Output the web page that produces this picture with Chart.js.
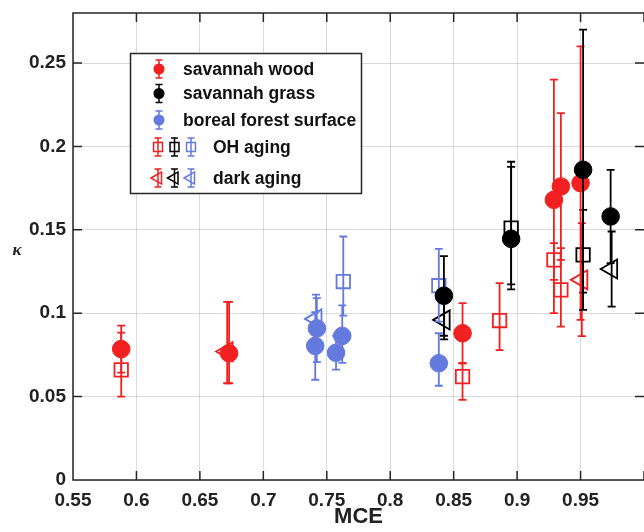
<!DOCTYPE html>
<html>
<head>
<meta charset="utf-8">
<script src="https://cdn.jsdelivr.net/npm/chart.js@4.4.0/dist/chart.umd.min.js"></script>
<style>
  html, body { margin: 0; padding: 0; background: #fff; overflow: hidden; }
  canvas { display: block; }
</style>
</head>
<body>
<canvas id="kappa" width="644" height="532"></canvas>
<script>
const RED = 'rgb(242,32,32)';
const BLACK = '#000';
const BLUE = 'rgb(100,122,222)';

// savannah wood (filled circles)
const woodMce   = [0.588, 0.673, 0.857, 0.929, 0.9345, 0.950];
const woodKappa = [0.0785, 0.076, 0.088, 0.168, 0.176, 0.178];
const woodLow   = [0.0644, 0.058, 0.070, 0.100, 0.132, 0.096];
const woodHigh  = [0.0926, 0.1068, 0.106, 0.240, 0.220, 0.260];

// savannah grass (filled circles)
const grassMce   = [0.8423, 0.8953, 0.952, 0.9737];
const grassKappa = [0.1105, 0.1446, 0.186, 0.158];
const grassLow   = [0.0865, 0.1143, 0.102, 0.130];
const grassHigh  = [0.1342, 0.1877, 0.270, 0.186];

// boreal forest surface (filled circles)
const borealMce   = [0.7422, 0.7409, 0.7622, 0.7573, 0.8383];
const borealKappa = [0.0909, 0.0804, 0.0864, 0.0763, 0.070];
const borealLow   = [0.0707, 0.0601, 0.0702, 0.0662, 0.0565];
const borealHigh  = [0.1091, 0.1007, 0.1047, 0.0864, 0.088];

// OH aging (open squares)
const ohWoodMce     = [0.588, 0.857, 0.8862, 0.929, 0.9345];
const ohWoodKappa   = [0.066, 0.062, 0.0956, 0.132, 0.114];
const ohWoodLow     = [0.050, 0.048, 0.0779, 0.120, 0.092];
const ohWoodHigh    = [0.0884, 0.070, 0.1181, 0.142, 0.139];
const ohGrassMce    = [0.8953, 0.952];
const ohGrassKappa  = [0.151, 0.135];
const ohGrassLow    = [0.1173, 0.1123];
const ohGrassHigh   = [0.1908, 0.162];
const ohBorealMce   = [0.763, 0.8383];
const ohBorealKappa = [0.119, 0.1165];
const ohBorealLow   = [0.0986, 0.095];
const ohBorealHigh  = [0.146, 0.1386];

// dark aging (open left triangles)
const darkWoodMce     = [0.6715, 0.951];
const darkWoodKappa   = [0.077, 0.120];
const darkWoodLow     = [0.058, 0.0863];
const darkWoodHigh    = [0.1068, 0.154];
const darkGrassMce    = [0.8425, 0.9745];
const darkGrassKappa  = [0.096, 0.1265];
const darkGrassLow    = [0.0843, 0.104];
const darkGrassHigh   = [0.108, 0.149];
const darkBorealMce   = [0.7415];
const darkBorealKappa = [0.0966];
const darkBorealLow   = [0.083];
const darkBorealHigh  = [0.1111];

const xTicks = { min: 0.55, max: 1.0, step: 0.05 };
const yTicks = { min: 0, max: 0.28, step: 0.05 };

const pts = (mce, k, lo, hi) => mce.map((x, i) => ({ x, y: k[i], yMin: lo[i], yMax: hi[i] }));

const filled = (label, data, color, order) => ({
  label, data, order, showLine: false,
  pointStyle: 'circle', pointRadius: 8.8,
  pointBackgroundColor: color, pointBorderColor: color, pointBorderWidth: 1,
  borderColor: color, backgroundColor: color
});
const open = (label, data, color, order, style) => ({
  label, data, order, showLine: false,
  pointStyle: style, pointRadius: style === 'rect' ? 9.5 : 11,
  pointRotation: style === 'triangle' ? -90 : 0,
  pointBackgroundColor: 'rgba(0,0,0,0)', pointBorderColor: color, pointBorderWidth: 1.8,
  borderColor: color, backgroundColor: 'rgba(0,0,0,0)'
});

// vertical error bars with caps, drawn just under each dataset's markers
const errorBars = {
  id: 'errorBars',
  beforeDatasetDraw(chart, args) {
    const ds = chart.data.datasets[args.index];
    const { ctx, scales: { x, y } } = chart;
    ctx.save();
    ctx.strokeStyle = ds.borderColor;
    ctx.lineWidth = 1.8;
    ds.data.forEach(p => {
      const px = x.getPixelForValue(p.x);
      const top = y.getPixelForValue(p.yMax);
      const bot = y.getPixelForValue(p.yMin);
      ctx.beginPath();
      ctx.moveTo(px, top); ctx.lineTo(px, bot);
      ctx.moveTo(px - 4, top); ctx.lineTo(px + 4, top);
      ctx.moveTo(px - 4, bot); ctx.lineTo(px + 4, bot);
      ctx.stroke();
    });
    ctx.restore();
  }
};

// box axes with inward ticks, plus the kappa label
const frame = {
  id: 'frame',
  afterDatasetsDraw(chart) {
    const { ctx, chartArea: a, scales: { x, y } } = chart;
    ctx.save();
    ctx.strokeStyle = '#262626';
    ctx.lineWidth = 1.5;
    ctx.beginPath();
    ctx.moveTo(a.right + 2, a.top); ctx.lineTo(a.left, a.top);
    ctx.lineTo(a.left, a.bottom); ctx.lineTo(a.right + 2, a.bottom);
    x.ticks.forEach(t => {
      const px = x.getPixelForValue(t.value);
      ctx.moveTo(px, a.bottom); ctx.lineTo(px, a.bottom - 9);
      ctx.moveTo(px, a.top); ctx.lineTo(px, a.top + 9);
    });
    y.ticks.forEach(t => {
      const py = y.getPixelForValue(t.value);
      ctx.moveTo(a.left, py); ctx.lineTo(a.left + 9, py);
      ctx.moveTo(a.right, py); ctx.lineTo(a.right - 9, py);
    });
    ctx.stroke();
    ctx.fillStyle = '#222';
    ctx.font = 'bold italic 17px "Liberation Serif"';
    ctx.textAlign = 'center';
    ctx.textBaseline = 'middle';
    ctx.fillText('κ', 17, (a.top + a.bottom) / 2 + 4);
    ctx.restore();
  }
};

// boxed key, with an error-bar glyph per entry
const keyBox = {
  id: 'keyBox',
  afterDraw(chart) {
    const ctx = chart.ctx;
    const sets = chart.data.datasets;
    ctx.save();
    ctx.fillStyle = '#fff';
    ctx.fillRect(130, 53, 232, 141);
    ctx.strokeStyle = '#262626';
    ctx.lineWidth = 1.5;
    ctx.strokeRect(130.5, 53.5, 231, 140);

    const glyph = (x, y, color, style, r, fill, rot) => {
      ctx.strokeStyle = color;
      ctx.lineWidth = 1.5;
      ctx.beginPath();
      ctx.moveTo(x, y - 9); ctx.lineTo(x, y + 9);
      ctx.moveTo(x - 3.5, y - 9); ctx.lineTo(x + 3.5, y - 9);
      ctx.moveTo(x - 3.5, y + 9); ctx.lineTo(x + 3.5, y + 9);
      ctx.stroke();
      ctx.fillStyle = fill ? color : 'rgba(0,0,0,0)';
      Chart.helpers.drawPoint(ctx, { pointStyle: style, radius: r, rotation: rot || 0, borderWidth: 1.3 }, x, y);
    };

    const rows = [69, 93.5, 120, 147, 178];
    [RED, BLACK, BLUE].forEach((c, i) => glyph(159, rows[i], c, 'circle', 4.8, true));
    [RED, BLACK, BLUE].forEach((c, i) => glyph(158 + i * 16.5, rows[3], c, 'rect', 6.3, false));
    [RED, BLACK, BLUE].forEach((c, i) => glyph(158 + i * 16.5, rows[4], c, 'triangle', 7, false, -90));

    ctx.fillStyle = '#111';
    ctx.font = 'bold 17.5px "Liberation Sans"';
    ctx.textAlign = 'left';
    ctx.textBaseline = 'middle';
    for (let i = 0; i < 3; i++) ctx.fillText(sets[i].label, 183, rows[i] + 1);
    ctx.fillText('OH aging', 213, rows[3] + 1);
    ctx.fillText('dark aging', 213, rows[4] + 1);
    ctx.restore();
  }
};

const tickFont = { family: 'Liberation Sans', size: 19, weight: 'bold' };
const fmt = v => Number(v.toFixed(2)).toString();

new Chart(document.getElementById('kappa'), {
  type: 'scatter',
  data: {
    datasets: [
      filled('savannah wood', pts(woodMce, woodKappa, woodLow, woodHigh), RED, 1),
      filled('savannah grass', pts(grassMce, grassKappa, grassLow, grassHigh), BLACK, 0),
      filled('boreal forest surface', pts(borealMce, borealKappa, borealLow, borealHigh), BLUE, 2),
      open('OH aging', pts(ohWoodMce, ohWoodKappa, ohWoodLow, ohWoodHigh), RED, 5, 'rect'),
      open('OH aging', pts(ohGrassMce, ohGrassKappa, ohGrassLow, ohGrassHigh), BLACK, 3, 'rect'),
      open('OH aging', pts(ohBorealMce, ohBorealKappa, ohBorealLow, ohBorealHigh), BLUE, 4, 'rect'),
      open('dark aging', pts(darkWoodMce, darkWoodKappa, darkWoodLow, darkWoodHigh), RED, 8, 'triangle'),
      open('dark aging', pts(darkGrassMce, darkGrassKappa, darkGrassLow, darkGrassHigh), BLACK, 6, 'triangle'),
      open('dark aging', pts(darkBorealMce, darkBorealKappa, darkBorealLow, darkBorealHigh), BLUE, 7, 'triangle')
    ]
  },
  options: {
    responsive: false,
    animation: false,
    devicePixelRatio: 1,
    events: [],
    layout: { autoPadding: false, padding: { top: 13, right: 0, left: 0, bottom: 0 } },
    plugins: { legend: { display: false }, tooltip: { enabled: false } },
    scales: {
      x: {
        type: 'linear',
        min: xTicks.min, max: xTicks.max,
        // fixed height, and no extra room reserved for the end labels
        afterFit: s => { s.height = 52; s.paddingLeft = 0; s.paddingRight = 0; },
        grid: { color: 'rgba(0,0,0,0.14)', lineWidth: 1, drawTicks: false },
        border: { display: false },
        ticks: {
          stepSize: xTicks.step, includeBounds: false, padding: 9, maxRotation: 0,
          color: '#222', font: tickFont,
          callback: v => (v > 0.99 ? '' : fmt(v))
        },
        title: {
          display: true, text: 'MCE', color: '#222',
          font: { family: 'Liberation Sans', size: 22, weight: 'bold' },
          padding: { top: 0, bottom: 2 }
        }
      },
      y: {
        type: 'linear',
        min: yTicks.min, max: yTicks.max,
        afterFit: s => { s.width = 73; s.paddingTop = 0; s.paddingBottom = 0; },
        grid: { color: 'rgba(0,0,0,0.14)', lineWidth: 1, drawTicks: false },
        border: { display: false },
        ticks: {
          stepSize: yTicks.step, includeBounds: false, padding: 7,
          color: '#222', font: tickFont,
          callback: v => fmt(v)
        }
      }
    }
  },
  plugins: [errorBars, frame, keyBox]
});
</script>
</body>
</html>
